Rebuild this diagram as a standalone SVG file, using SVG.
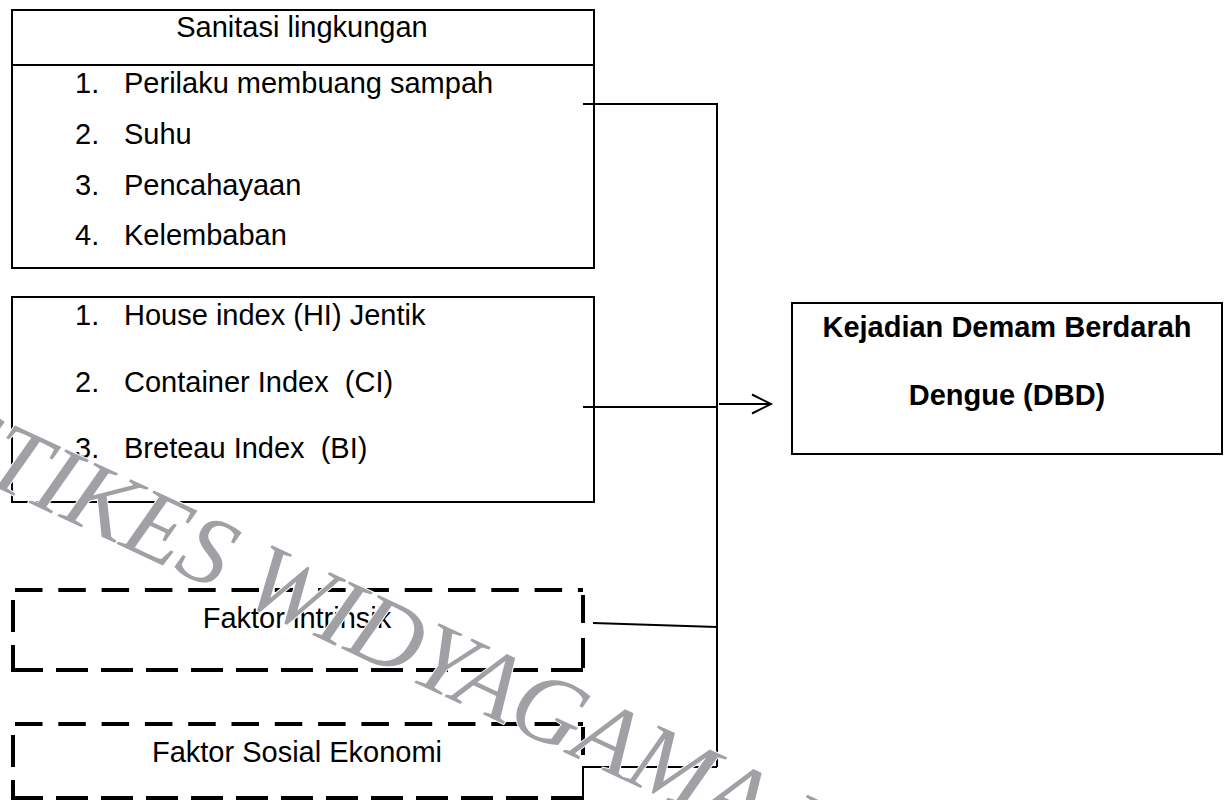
<svg xmlns="http://www.w3.org/2000/svg" width="1232" height="800" viewBox="0 0 1232 800">
<style>
.box{fill:none;stroke:#000;stroke-width:2}
.dash{fill:none;stroke:#000;stroke-width:4}
.t{font-family:"Liberation Sans",Arial,sans-serif;font-size:29px;fill:#000;white-space:pre}
.b{font-weight:bold}
.c{text-anchor:middle}
.con{fill:none;stroke:#000;stroke-width:2}
.wm{font-family:"Liberation Serif","Times New Roman",serif;font-style:italic;font-size:98px;fill:#a0a0a5;stroke:#fff;stroke-width:2;paint-order:stroke}
</style>
<rect width="1232" height="800" fill="#fff"/>
<g id="sanitasi">
<rect class="box" x="12" y="10" width="582" height="258"/>
<line class="box" x1="12" y1="65" x2="594" y2="65"/>
<text class="t c" x="302" y="37">Sanitasi lingkungan</text>
<text class="t" x="75" y="93">1.</text><text class="t" x="124" y="93">Perilaku membuang sampah</text>
<text class="t" x="75" y="144">2.</text><text class="t" x="124" y="144">Suhu</text>
<text class="t" x="75" y="195">3.</text><text class="t" x="124" y="195">Pencahayaan</text>
<text class="t" x="75" y="245">4.</text><text class="t" x="124" y="245">Kelembaban</text>
</g>
<g id="indeks">
<rect class="box" x="12" y="297" width="582" height="205"/>
<text class="t" x="75" y="325">1.</text><text class="t" x="124" y="325">House index (HI) Jentik</text>
<text class="t" x="75" y="392">2.</text><text class="t" x="124" y="392">Container Index  (CI)</text>
<text class="t" x="75" y="458">3.</text><text class="t" x="124" y="458">Breteau Index  (BI)</text>
</g>
<g id="dbd">
<rect class="box" x="792" y="303" width="430" height="151"/>
<text class="t b c" x="1007" y="337">Kejadian Demam Berdarah</text>
<text class="t b c" x="1007" y="405">Dengue (DBD)</text>
</g>
<g id="intrinsik">
<line class="dash" x1="15" y1="590" x2="583" y2="590" stroke-dasharray="27.5 15.8"/>
<line class="dash" x1="13" y1="600" x2="13" y2="632"/>
<line class="dash" x1="13" y1="645" x2="13" y2="672"/>
<line class="dash" x1="11" y1="670" x2="583" y2="670" stroke-dasharray="32 13"/>
<line class="dash" x1="583" y1="595" x2="583" y2="623"/>
<line class="dash" x1="583" y1="638" x2="583" y2="668"/>
<text class="t c" x="297" y="628">Faktor intrinsik</text>
</g>
<g id="sosial">
<line class="dash" x1="15" y1="724" x2="583" y2="724" stroke-dasharray="27.5 15.8"/>
<line class="dash" x1="13" y1="735" x2="13" y2="767"/>
<line class="dash" x1="13" y1="780" x2="13" y2="800"/>
<line class="dash" x1="11" y1="798" x2="583" y2="798" stroke-dasharray="32 13"/>
<line class="dash" x1="583" y1="727" x2="583" y2="755"/>
<text class="t c" x="297" y="762">Faktor Sosial Ekonomi</text>
</g>
<g id="connectors">
<path class="con" d="M583 104H717V767"/>
<path class="con" d="M583 407H717"/>
<path class="con" d="M593 623L717 627"/>
<path class="con" d="M717 767H583V800"/>
<path class="con" d="M719 404H770M752 394.5L771 404L752 413.5"/>
</g>
<g id="watermark">
<text class="wm" x="-65" y="459" transform="rotate(25 -65 459)">STIKES WIDYAGAMA HUSADA</text>
</g>
</svg>
